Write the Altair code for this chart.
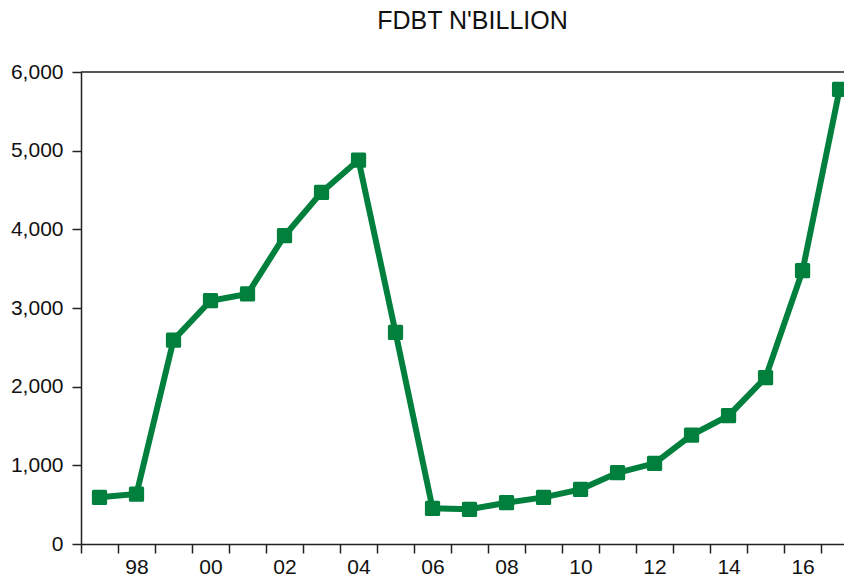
import altair as alt
import pandas as pd

GREEN = "#00803c"
AXIS = "#222222"
FONT = "Liberation Sans"

years = list(range(1997, 2018))
fdbt = [593, 635, 2593, 3093, 3178, 3919, 4470, 4881, 2691, 454, 441,
        525, 593, 695, 906, 1025, 1385, 1631, 2114, 3474, 5779]
y_ticks = [0, 1000, 2000, 3000, 4000, 5000, 6000]
x_tick_marks = [1996.5 + i for i in range(21)]
x_label_years = [1998, 2000, 2002, 2004, 2006, 2008, 2010, 2012, 2014, 2016]

df = pd.DataFrame({"year": years, "value": fdbt})

W, H = 763, 472
xscale = alt.Scale(domain=[1996.5, 2017.12], nice=False, zero=False)
yscale = alt.Scale(domain=[0, 6000], nice=False)

y_enc = alt.Y("value:Q", scale=yscale,
              axis=alt.Axis(values=y_ticks, format=",d", title=None, grid=False,
                            tickSize=9, labelPadding=9, labelFontSize=21,
                            labelFont=FONT, labelColor="#111111",
                            domainColor=AXIS, tickColor=AXIS,
                            domainWidth=1.5, tickWidth=1.5))

line = alt.Chart(df).mark_line(color=GREEN, strokeWidth=6).encode(
    x=alt.X("year:Q", scale=xscale,
            axis=alt.Axis(orient="bottom", values=x_tick_marks, labels=False,
                          tickSize=9, grid=False, title=None,
                          domainColor=AXIS, tickColor=AXIS,
                          domainWidth=1.5, tickWidth=1.5)),
    y=y_enc,
)

points = alt.Chart(df).mark_square(size=150, color=GREEN, stroke=GREEN,
                                   strokeWidth=3, strokeJoin="round",
                                   opacity=1).encode(
    x=alt.X("year:Q", scale=xscale,
            axis=alt.Axis(orient="bottom", values=x_label_years,
                          labelExpr="substring(toString(datum.value), 2, 4)",
                          tickSize=0, domain=False, grid=False, title=None,
                          labelPadding=12, labelFontSize=21, labelFont=FONT,
                          labelColor="#111111")),
    y=y_enc,
)

top = alt.Chart(pd.DataFrame({"a": [0]})).mark_rule(color=AXIS, strokeWidth=1.5).encode(
    y=alt.value(0), x=alt.value(0), x2=alt.value(W)
)

chart = alt.layer(top, line, points).resolve_axis(x="independent").properties(
    width=W, height=H,
    autosize=alt.AutoSizeParams(type="none"),
    padding={"left": 73, "top": 64, "right": 0, "bottom": 33},
    title=alt.TitleParams("FDBT N'BILLION", fontSize=25, font=FONT,
                          fontWeight="normal", offset=27,
                          anchor="middle", frame="group", dx=10, color="#111111"),
).configure_view(stroke=None)

chart.save("out.html", embed_options={"renderer": "svg", "actions": False})
